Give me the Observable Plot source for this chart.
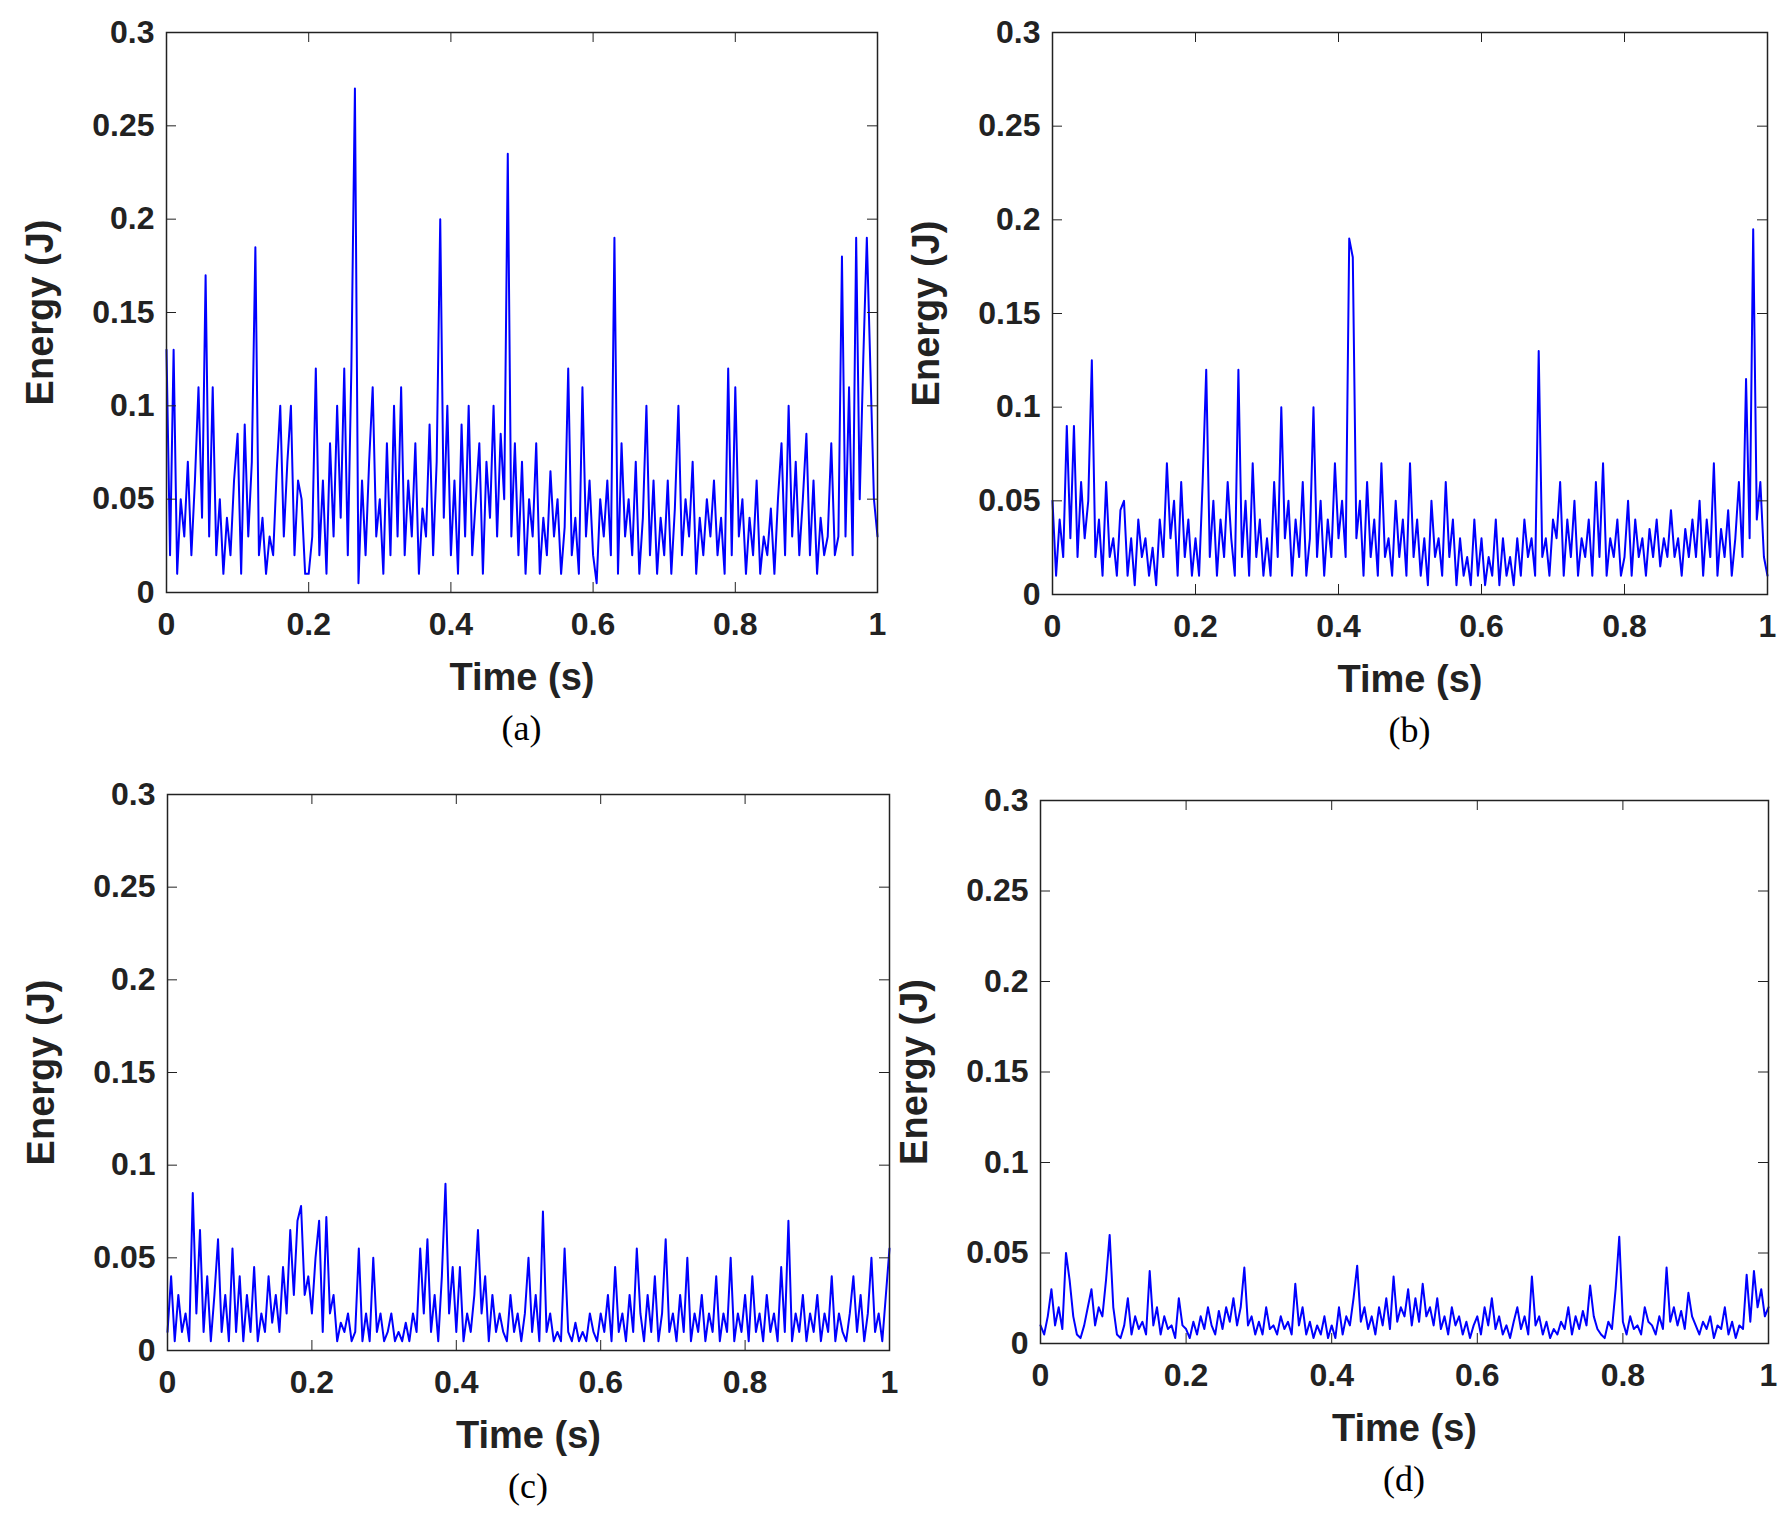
<!DOCTYPE html>
<html><head><meta charset="utf-8">
<script src="https://cdn.jsdelivr.net/npm/d3@7"></script>
<script src="https://cdn.jsdelivr.net/npm/@observablehq/plot@0.6"></script>
<style>
body{margin:0;background:#fff;}
#wrap{position:relative;width:1791px;height:1520px;}
.p{position:absolute;}
.cap{position:absolute;font-family:"Liberation Serif",serif;font-size:36px;transform:translateX(-50%);}
</style></head><body><div id="wrap"></div>
<script>
const xTicks=[0,0.2,0.4,0.6,0.8,1];
const yTicks=[0,0.05,0.1,0.15,0.2,0.25,0.3];
const captions=["(a)","(b)","(c)","(d)"];
const energyA=[0.13,0.02,0.13,0.01,0.05,0.03,0.07,0.02,0.06,0.11,0.04,0.17,0.03,0.11,0.02,0.05,0.01,0.04,0.02,0.06,
0.085,0.01,0.09,0.03,0.07,0.185,0.02,0.04,0.01,0.03,0.02,0.065,0.10,0.03,0.07,0.10,0.02,0.06,0.05,0.01,
0.01,0.03,0.12,0.02,0.06,0.01,0.08,0.03,0.10,0.04,0.12,0.02,0.12,0.27,0.005,0.06,0.02,0.07,0.11,0.03,
0.05,0.01,0.08,0.02,0.10,0.03,0.11,0.02,0.06,0.03,0.08,0.01,0.045,0.03,0.09,0.02,0.07,0.20,0.04,0.10,
0.02,0.06,0.01,0.09,0.03,0.10,0.02,0.05,0.08,0.01,0.07,0.04,0.10,0.03,0.085,0.05,0.235,0.03,0.08,0.02,
0.07,0.01,0.05,0.03,0.08,0.01,0.04,0.02,0.065,0.03,0.05,0.01,0.035,0.12,0.02,0.04,0.01,0.11,0.03,0.06,
0.02,0.005,0.05,0.03,0.06,0.02,0.19,0.01,0.08,0.03,0.05,0.02,0.07,0.01,0.04,0.10,0.02,0.06,0.01,0.04,
0.02,0.06,0.01,0.045,0.10,0.02,0.05,0.03,0.07,0.01,0.04,0.02,0.05,0.03,0.06,0.02,0.04,0.01,0.12,0.02,
0.11,0.03,0.05,0.01,0.04,0.02,0.06,0.01,0.03,0.02,0.045,0.01,0.05,0.08,0.02,0.10,0.03,0.07,0.02,0.05,
0.085,0.02,0.06,0.01,0.04,0.02,0.03,0.08,0.02,0.03,0.18,0.03,0.11,0.02,0.19,0.05,0.125,0.19,0.12,0.05,0.03];
const energyB=[0.05,0.01,0.04,0.02,0.09,0.03,0.09,0.02,0.06,0.03,0.05,0.125,0.02,0.04,0.01,0.06,0.02,0.03,0.01,0.045,
0.05,0.01,0.03,0.005,0.04,0.02,0.03,0.01,0.025,0.005,0.04,0.02,0.07,0.03,0.05,0.01,0.06,0.02,0.04,0.01,
0.03,0.01,0.06,0.12,0.02,0.05,0.01,0.04,0.02,0.06,0.03,0.01,0.12,0.02,0.05,0.01,0.07,0.02,0.04,0.01,
0.03,0.01,0.06,0.02,0.10,0.03,0.05,0.01,0.04,0.02,0.06,0.01,0.03,0.10,0.02,0.05,0.01,0.04,0.02,0.07,
0.03,0.05,0.02,0.19,0.18,0.03,0.05,0.01,0.06,0.02,0.04,0.01,0.07,0.02,0.03,0.01,0.05,0.02,0.04,0.01,
0.07,0.02,0.04,0.01,0.03,0.005,0.05,0.02,0.03,0.01,0.06,0.02,0.04,0.005,0.03,0.01,0.02,0.005,0.04,0.01,
0.03,0.005,0.02,0.01,0.04,0.005,0.03,0.01,0.02,0.005,0.03,0.01,0.04,0.02,0.03,0.01,0.13,0.02,0.03,0.01,
0.04,0.03,0.06,0.01,0.04,0.02,0.05,0.01,0.03,0.02,0.04,0.01,0.06,0.02,0.07,0.01,0.03,0.02,0.04,0.01,
0.02,0.05,0.01,0.04,0.02,0.03,0.01,0.035,0.02,0.04,0.015,0.03,0.02,0.045,0.02,0.03,0.01,0.035,0.02,0.04,
0.02,0.05,0.01,0.04,0.02,0.07,0.01,0.035,0.02,0.045,0.01,0.03,0.06,0.02,0.115,0.03,0.195,0.04,0.06,0.02,0.01];
const energyC=[0.01,0.04,0.005,0.03,0.01,0.02,0.005,0.085,0.02,0.065,0.01,0.04,0.005,0.03,0.06,0.01,0.03,0.005,0.055,0.01,
0.04,0.005,0.03,0.01,0.045,0.005,0.02,0.01,0.04,0.015,0.03,0.01,0.045,0.02,0.065,0.03,0.07,0.078,0.03,0.04,
0.02,0.05,0.07,0.01,0.072,0.02,0.03,0.005,0.015,0.01,0.02,0.005,0.01,0.055,0.005,0.02,0.005,0.05,0.01,0.02,
0.005,0.01,0.02,0.005,0.01,0.005,0.015,0.005,0.02,0.01,0.055,0.02,0.06,0.01,0.03,0.005,0.04,0.09,0.02,0.045,
0.01,0.045,0.005,0.02,0.01,0.03,0.065,0.02,0.04,0.005,0.03,0.01,0.02,0.01,0.005,0.03,0.01,0.02,0.005,0.02,
0.05,0.01,0.03,0.005,0.075,0.01,0.02,0.005,0.01,0.005,0.055,0.01,0.005,0.015,0.005,0.01,0.005,0.02,0.01,0.005,
0.02,0.01,0.03,0.005,0.045,0.01,0.02,0.005,0.03,0.01,0.055,0.02,0.005,0.03,0.01,0.04,0.005,0.02,0.06,0.01,
0.02,0.005,0.03,0.01,0.05,0.005,0.02,0.01,0.03,0.005,0.02,0.01,0.04,0.005,0.02,0.01,0.05,0.005,0.02,0.01,
0.03,0.005,0.04,0.01,0.02,0.005,0.03,0.01,0.02,0.005,0.045,0.01,0.07,0.005,0.02,0.01,0.03,0.005,0.02,0.01,
0.03,0.005,0.02,0.01,0.04,0.005,0.02,0.01,0.005,0.02,0.04,0.01,0.03,0.005,0.02,0.05,0.01,0.02,0.005,0.03,0.055];
const energyD=[0.01,0.005,0.015,0.03,0.01,0.02,0.008,0.05,0.035,0.015,0.005,0.003,0.01,0.02,0.03,0.01,0.02,0.015,0.035,0.06,
0.02,0.005,0.003,0.01,0.025,0.005,0.015,0.008,0.012,0.005,0.04,0.01,0.02,0.005,0.015,0.008,0.01,0.003,0.025,0.01,
0.008,0.003,0.012,0.005,0.015,0.008,0.02,0.01,0.005,0.018,0.008,0.02,0.012,0.025,0.01,0.02,0.042,0.01,0.015,0.005,
0.012,0.005,0.02,0.008,0.01,0.005,0.015,0.008,0.012,0.005,0.033,0.01,0.02,0.005,0.012,0.003,0.01,0.005,0.015,0.003,
0.01,0.003,0.02,0.005,0.015,0.01,0.025,0.043,0.012,0.02,0.008,0.015,0.005,0.02,0.01,0.025,0.008,0.037,0.012,0.02,
0.015,0.03,0.01,0.025,0.012,0.033,0.015,0.02,0.01,0.025,0.008,0.015,0.005,0.02,0.01,0.015,0.005,0.012,0.003,0.01,
0.015,0.005,0.02,0.01,0.025,0.008,0.015,0.005,0.01,0.003,0.012,0.02,0.008,0.015,0.005,0.037,0.01,0.015,0.005,0.012,
0.003,0.008,0.005,0.012,0.008,0.02,0.005,0.015,0.008,0.018,0.01,0.032,0.015,0.008,0.005,0.003,0.012,0.008,0.03,0.059,
0.012,0.005,0.015,0.008,0.01,0.005,0.02,0.012,0.01,0.005,0.015,0.008,0.042,0.012,0.02,0.01,0.018,0.008,0.028,0.015,
0.01,0.005,0.012,0.008,0.015,0.003,0.01,0.008,0.02,0.005,0.012,0.003,0.01,0.008,0.038,0.012,0.04,0.02,0.03,0.015,0.02];

const panels=[
 {vals:energyA,l:166,t:32,r:877,b:592},
 {vals:energyB,l:1052,t:32,r:1767,b:594},
 {vals:energyC,l:167,t:794,r:889,b:1350},
 {vals:energyD,l:1040,t:800,r:1768,b:1343}
];
const wrap=document.getElementById("wrap");
const ML=170,MT=35,MR=22,MB=110;
panels.forEach((p,k)=>{
  const n=p.vals.length;
  const data=p.vals.map((v,i)=>({t:i/(n-1),e:v}));
  const w=p.r-p.l+ML+MR, h=p.b-p.t+MT+MB;
  const tl=0.3*10/(p.b-p.t), tx=10/(p.r-p.l);
  const chart=Plot.plot({
    width:w,height:h,marginLeft:ML,marginTop:MT,marginRight:MR,marginBottom:MB,
    style:{fontFamily:"Liberation Sans, Arial, sans-serif",fontWeight:"bold",fontSize:"32px",color:"#222",overflow:"visible"},
    x:{domain:[0,1]},y:{domain:[0,0.3]},
    marks:[
      Plot.line(data,{x:"t",y:"e",stroke:"#0000ff",strokeWidth:2}),
      Plot.ruleX(xTicks,{y1:0,y2:tl,stroke:"#222"}),
      Plot.ruleX(xTicks,{y1:0.3,y2:0.3-tl,stroke:"#222"}),
      Plot.ruleY(yTicks,{x1:0,x2:tx,stroke:"#222"}),
      Plot.ruleY(yTicks,{x1:1,x2:1-tx,stroke:"#222"}),
      Plot.frame({stroke:"#222",strokeWidth:1.5}),
      Plot.axisX(xTicks,{tickSize:0,tickPadding:20,tickFormat:d=>String(d),fontSize:32,
        label:"Time (s)",labelAnchor:"center",labelArrow:"none",labelOffset:97}),
      Plot.axisY(yTicks,{tickSize:0,tickPadding:12,tickFormat:d=>String(d),fontSize:32,
        label:"Energy (J)",labelAnchor:"center",labelArrow:"none",labelOffset:140})
    ]
  });
  chart.querySelectorAll("[aria-label='x-axis label'] text, [aria-label='y-axis label'] text").forEach(t=>t.style.fontSize="38px");
  const d=document.createElement("div");d.className="p";
  d.style.left=(p.l-ML)+"px";d.style.top=(p.t-MT)+"px";
  d.appendChild(chart);wrap.appendChild(d);
  const c=document.createElement("div");c.className="cap";c.textContent=captions[k];
  c.style.left=((p.l+p.r)/2)+"px";c.style.top=(p.b+115)+"px";
  wrap.appendChild(c);
});
</script></body></html>
